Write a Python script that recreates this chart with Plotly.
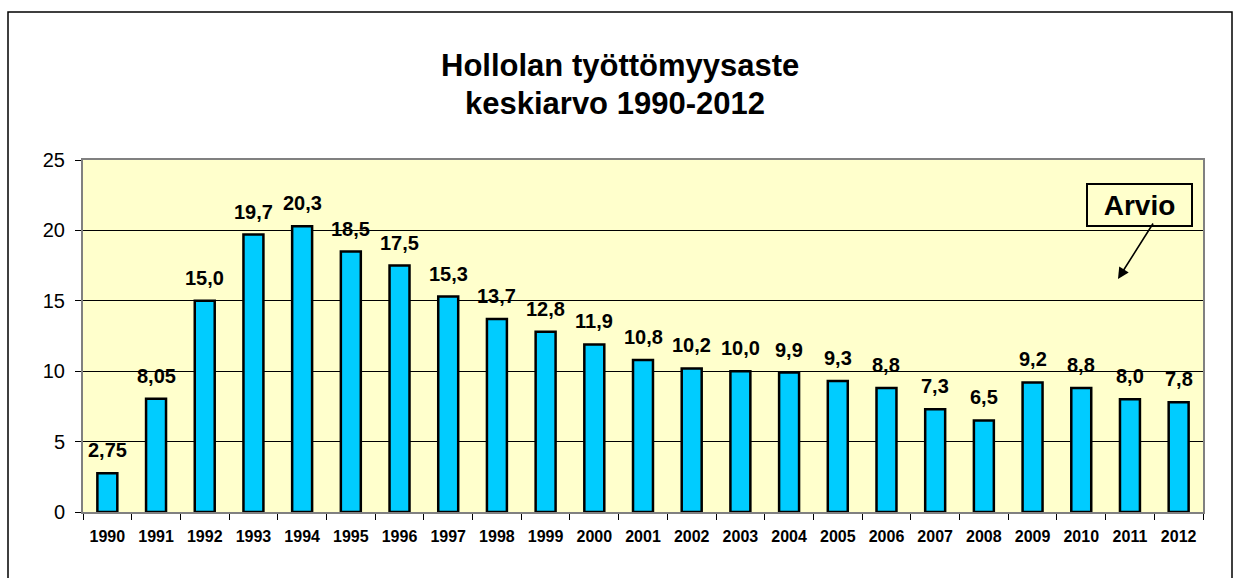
import plotly.graph_objects as go

years = [str(y) for y in range(1990, 2013)]
rates = [2.75, 8.05, 15.0, 19.7, 20.3, 18.5, 17.5, 15.3, 13.7, 12.8, 11.9, 10.8,
         10.2, 10.0, 9.9, 9.3, 8.8, 7.3, 6.5, 9.2, 8.8, 8.0, 7.8]
labels = ["2,75", "8,05", "15,0", "19,7", "20,3", "18,5", "17,5", "15,3", "13,7",
          "12,8", "11,9", "10,8", "10,2", "10,0", "9,9", "9,3", "8,8", "7,3",
          "6,5", "9,2", "8,8", "8,0", "7,8"]
title_lines = ["Hollolan työttömyysaste", "keskiarvo 1990-2012"]
y_ticks = [0, 5, 10, 15, 20, 25]

FONT = "Liberation Sans, Arial, sans-serif"
L, R, T, B = 83, 1203, 160, 512
PW, PH = R - L, B - T


def px(xp):
    return (xp - L) / PW


def py(yp):
    return (B - yp) / PH


fig = go.Figure(go.Bar(
    x=years, y=rates,
    marker=dict(color="#00CCFF", line=dict(color="black", width=2.5)),
))

fig.update_layout(
    width=1236, height=578,
    margin=dict(l=L, r=1236 - R, t=T, b=578 - B),
    paper_bgcolor="white", plot_bgcolor="#FFFFCC",
    bargap=0.59, showlegend=False,
    font=dict(family=FONT, color="black"),
)
fig.update_xaxes(
    type="category", tickson="boundaries", ticks="outside", ticklen=6,
    tickcolor="black", showline=True, linecolor="#808080", linewidth=2, mirror=True,
    tickfont=dict(family=FONT, size=16, weight="bold"), showgrid=False,
    ticklabelstandoff=9, tickangle=0, range=[-0.5, len(years) - 0.5],
)
fig.update_yaxes(
    range=[0, 25], tickvals=y_ticks, ticks="outside", ticklen=6, tickcolor="black",
    showline=True, linecolor="#808080", linewidth=2, mirror=True,
    gridcolor="black", gridwidth=1, zeroline=False,
    tickfont=dict(family=FONT, size=20), ticklabelstandoff=6,
)

annotations = [
    dict(text=title_lines[0], xref="paper", yref="paper", x=px(620), xanchor="center",
         y=py(66), yanchor="middle", showarrow=False,
         font=dict(family=FONT, size=31, weight="bold")),
    dict(text=title_lines[1], xref="paper", yref="paper", x=px(615), xanchor="center",
         y=py(103), yanchor="middle", showarrow=False,
         font=dict(family=FONT, size=31, weight="bold")),
    dict(text="Arvio", xref="paper", yref="paper", x=px(1139.5), xanchor="center",
         y=py(205), yanchor="middle", showarrow=False, bgcolor="#FFFFCC",
         bordercolor="black", borderwidth=2, borderpad=2, width=99, height=36,
         font=dict(family=FONT, size=28, weight="bold")),
    dict(text="", xref="paper", yref="paper", x=px(1118),
         y=py(279), ax=36, ay=-57, showarrow=True, arrowhead=2,
         arrowsize=1.4, arrowwidth=1.6, arrowcolor="black"),
]
for i, (v, lab) in enumerate(zip(rates, labels)):
    annotations.append(dict(
        x=i, y=v, text=lab, showarrow=False, yanchor="bottom", yshift=10,
        font=dict(family=FONT, size=20, weight="bold"),
    ))
fig.update_layout(annotations=annotations)

fig.add_shape(type="rect", xref="paper", yref="paper",
              x0=px(8), x1=px(1232), y0=py(600), y1=py(12),
              line=dict(color="black", width=1.5), layer="below")

fig.write_html("out.html", config={"displayModeBar": False},
               post_script="document.body.style.margin='0px';")
